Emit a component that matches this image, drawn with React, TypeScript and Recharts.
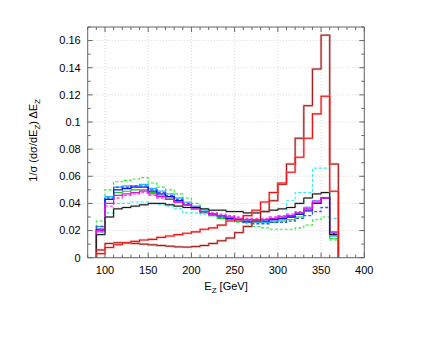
import React from 'react';
import { LineChart, Line, XAxis, YAxis, CartesianGrid, ReferenceLine } from 'recharts';

// Bin lower edges (GeV); last bin ends at 370
const binStart = [90, 100, 110, 120, 130, 140, 150, 160, 170, 180, 190, 200, 210, 220, 230, 240, 250, 260, 270, 280, 290, 300, 310, 320, 330, 340, 350, 360];
const binEnd = 370;

const darkRed = [0.0057, 0.0105, 0.011, 0.0108, 0.0105, 0.010, 0.0095, 0.009, 0.0085, 0.008, 0.0078, 0.0082, 0.009, 0.0105, 0.0125, 0.0145, 0.0185, 0.023, 0.027, 0.034, 0.042, 0.054, 0.069, 0.088, 0.112, 0.139, 0.164, 0.069];
const red = [0.003, 0.0075, 0.0095, 0.011, 0.012, 0.013, 0.0135, 0.015, 0.016, 0.017, 0.018, 0.019, 0.021, 0.022, 0.024, 0.027, 0.028, 0.031, 0.035, 0.041, 0.048, 0.055, 0.063, 0.074, 0.088, 0.106, 0.119, 0.049];
const black = [0.017, 0.030, 0.036, 0.037, 0.038, 0.039, 0.040, 0.040, 0.039, 0.038, 0.037, 0.037, 0.036, 0.035, 0.035, 0.034, 0.034, 0.033, 0.033, 0.034, 0.035, 0.036, 0.037, 0.040, 0.044, 0.047, 0.048, 0.017];
const cyanDash = [0.019, 0.033, 0.040, 0.040, 0.041, 0.041, 0.040, 0.039, 0.038, 0.036, 0.033, 0.033, 0.032, 0.031, 0.030, 0.029, 0.028, 0.027, 0.027, 0.027, 0.028, 0.030, 0.042, 0.048, 0.048, 0.066, 0.066, 0.029];
const greenDash = [0.027, 0.050, 0.056, 0.057, 0.058, 0.059, 0.055, 0.052, 0.050, 0.047, 0.044, 0.040, 0.036, 0.033, 0.030, 0.028, 0.026, 0.025, 0.023, 0.022, 0.021, 0.021, 0.021, 0.022, 0.024, 0.028, 0.030, 0.013];
const cyan = [0.019, 0.045, 0.052, 0.053, 0.053, 0.054, 0.051, 0.049, 0.047, 0.044, 0.041, 0.038, 0.035, 0.032, 0.030, 0.028, 0.027, 0.026, 0.026, 0.026, 0.027, 0.028, 0.030, 0.033, 0.037, 0.042, 0.044, 0.016];
const blueDash = [0.023, 0.044, 0.052, 0.052, 0.053, 0.053, 0.050, 0.048, 0.046, 0.043, 0.040, 0.037, 0.034, 0.032, 0.030, 0.028, 0.027, 0.026, 0.025, 0.025, 0.026, 0.026, 0.027, 0.029, 0.031, 0.034, 0.037, 0.017];
const blue = [0.021, 0.043, 0.050, 0.051, 0.052, 0.052, 0.049, 0.047, 0.045, 0.042, 0.039, 0.037, 0.034, 0.032, 0.031, 0.029, 0.028, 0.027, 0.027, 0.027, 0.028, 0.029, 0.030, 0.032, 0.035, 0.040, 0.044, 0.018];
const green = [0.023, 0.043, 0.048, 0.049, 0.050, 0.050, 0.048, 0.046, 0.044, 0.041, 0.039, 0.036, 0.033, 0.031, 0.029, 0.028, 0.027, 0.026, 0.026, 0.026, 0.026, 0.027, 0.028, 0.030, 0.034, 0.040, 0.044, 0.014];
const magenta = [0.020, 0.040, 0.046, 0.047, 0.048, 0.049, 0.047, 0.045, 0.043, 0.041, 0.039, 0.036, 0.034, 0.032, 0.031, 0.030, 0.029, 0.028, 0.028, 0.028, 0.029, 0.030, 0.031, 0.033, 0.036, 0.041, 0.044, 0.019];
const magentaDash = [0.019, 0.038, 0.044, 0.046, 0.047, 0.048, 0.046, 0.044, 0.043, 0.041, 0.039, 0.037, 0.034, 0.033, 0.032, 0.031, 0.030, 0.029, 0.029, 0.029, 0.030, 0.031, 0.032, 0.034, 0.037, 0.042, 0.044, 0.018];

const xMajor = [100, 150, 200, 250, 300, 350, 400];
const xAllTicks = [80, 90, 100, 110, 120, 130, 140, 150, 160, 170, 180, 190, 200, 210, 220, 230, 240, 250, 260, 270, 280, 290, 300, 310, 320, 330, 340, 350, 360, 370, 380, 390, 400];
const yMajor = [0, 0.02, 0.04, 0.06, 0.08, 0.1, 0.12, 0.14, 0.16];
const yLabels = ['0', '0.02', '0.04', '0.06', '0.08', '0.1', '0.12', '0.14', '0.16'];
const yAllTicks = [0, 0.01, 0.02, 0.03, 0.04, 0.05, 0.06, 0.07, 0.08, 0.09, 0.1, 0.11, 0.12, 0.13, 0.14, 0.15, 0.16, 0.17];

const seriesValues: Record<string, number[]> = {
  greenDash, cyanDash, green, cyan, blueDash, blue, magentaDash, magenta, black, darkRed, red,
};

type Def = { key: string; color: string; dash?: string; width: number; opacity?: number };
const styles: Def[] = [
  { key: 'greenDash', color: '#33ee33', dash: '3 2', width: 1.1 },
  { key: 'cyanDash', color: '#33eeee', dash: '3 2', width: 1.1 },
  { key: 'green', color: '#11cc11', width: 1.1 },
  { key: 'cyan', color: '#22bbff', width: 1.3 },
  { key: 'blueDash', color: '#3355ff', dash: '3 2', width: 1.3 },
  { key: 'blue', color: '#1111ee', width: 1.3 },
  { key: 'magentaDash', color: '#ff44ff', dash: '3 2', width: 1.3 },
  { key: 'magenta', color: '#dd11dd', width: 1.3 },
  { key: 'black', color: '#999999', width: 2.2, opacity: 0.5 },
  { key: 'black', color: '#111111', width: 1 },
  { key: 'darkRed', color: '#c87878', width: 2.4, opacity: 0.55 },
  { key: 'darkRed', color: '#a01818', width: 1 },
  { key: 'red', color: '#ff8080', width: 2.4, opacity: 0.5 },
  { key: 'red', color: '#ee1111', width: 1.1 },
];

const seriesKeys = Object.keys(seriesValues);
const data: Record<string, number>[] = [];
{
  const first: Record<string, number> = { x: binStart[0] };
  seriesKeys.forEach((k) => (first[k] = 0));
  data.push(first);
  binStart.forEach((b, i) => {
    const row: Record<string, number> = { x: b };
    seriesKeys.forEach((k) => (row[k] = seriesValues[k][i]));
    data.push(row);
  });
  const last: Record<string, number> = { x: binEnd };
  seriesKeys.forEach((k) => (last[k] = 0));
  data.push(last);
}

const FONT = '"Liberation Sans", Arial, Helvetica, sans-serif';
const FRAME = '#666666';

// plot-area layout
const M_TOP = 27;
const M_LEFT = 27.7;
const Y_AXIS_W = 60;
const M_RIGHT = 71.7;
const M_BOTTOM = 49.3;
const X_AXIS_H = 30;
const W = 436;
const H = 337;
const PLOT_TOP = M_TOP;
const PLOT_BOTTOM = H - M_BOTTOM - X_AXIS_H;
const PLOT_LEFT = M_LEFT + Y_AXIS_W;
const PLOT_RIGHT = W - M_RIGHT;
const X_MARGIN = 8;
const Y_MARGIN = 7;

const XTick = (props: any) => {
  const { x, payload } = props;
  const v = payload.value;
  const major = xMajor.includes(v);
  const len = major ? 5 : 3;
  return (
    <g>
      <line x1={x} x2={x} y1={PLOT_BOTTOM} y2={PLOT_BOTTOM - len} stroke={FRAME} />
      <line x1={x} x2={x} y1={PLOT_TOP} y2={PLOT_TOP + len} stroke={FRAME} />
      {major && (
        <text x={x} y={PLOT_BOTTOM + X_MARGIN} dy="0.71em" textAnchor="middle" fontSize={11} fontFamily={FONT} fill="#000">
          {v}
        </text>
      )}
    </g>
  );
};

const YTick = (props: any) => {
  const { y, payload } = props;
  const v = payload.value;
  const idx = yMajor.findIndex((m) => Math.abs(m - v) < 1e-9);
  const major = idx >= 0;
  const len = major ? 5 : 3;
  return (
    <g>
      <line x1={PLOT_LEFT} x2={PLOT_LEFT + len} y1={y} y2={y} stroke={FRAME} />
      <line x1={PLOT_RIGHT} x2={PLOT_RIGHT - len} y1={y} y2={y} stroke={FRAME} />
      {major && (
        <text x={PLOT_LEFT - Y_MARGIN} y={y} dy="0.355em" textAnchor="end" fontSize={11} fontFamily={FONT} fill="#000">
          {yLabels[idx]}
        </text>
      )}
    </g>
  );
};

const XLabel = (props: any) => {
  const vb = props.viewBox || {};
  const cx = vb.x + vb.width / 2;
  const y = vb.y + 32;
  return (
    <text x={cx} y={y} textAnchor="middle" fontSize={11} fontFamily={FONT} fill="#000">
      E<tspan dy={3} fontSize={8}>Z</tspan>
      <tspan dy={-3}> [GeV]</tspan>
    </text>
  );
};

const YLabel = (props: any) => {
  const vb = props.viewBox || {};
  const cy = vb.y + vb.height / 2 - 2;
  const x = 37;
  return (
    <text x={x} y={cy} textAnchor="middle" fontSize={11} fontFamily={FONT} fill="#000" transform={`rotate(-90 ${x} ${cy})`}>
      1/σ (dσ/dE<tspan dy={3} fontSize={8}>Z</tspan>
      <tspan dy={-3}>) ΔE</tspan>
      <tspan dy={3} fontSize={8}>Z</tspan>
    </text>
  );
};

export default function App() {
  return (
    <div style={{ position: 'absolute', left: 0, top: 0, width: W, height: H, background: '#fff' }}>
      <LineChart
        width={W}
        height={H}
        data={data}
        margin={{ top: M_TOP, right: M_RIGHT, bottom: M_BOTTOM, left: M_LEFT }}
        style={{ fontFamily: FONT }}
      >
        <XAxis
          xAxisId="x"
          type="number"
          dataKey="x"
          domain={[80, 400]}
          ticks={xAllTicks}
          interval={0}
          allowDataOverflow
          height={X_AXIS_H}
          tickLine={false}
          tickSize={0}
          tickMargin={X_MARGIN}
          axisLine={{ stroke: FRAME }}
          tick={<XTick />}
          label={<XLabel />}
        />
        <YAxis
          yAxisId="y"
          type="number"
          domain={[0, 0.17]}
          ticks={yAllTicks}
          interval={0}
          allowDataOverflow
          width={Y_AXIS_W}
          tickLine={false}
          tickSize={0}
          tickMargin={Y_MARGIN}
          axisLine={{ stroke: FRAME }}
          tick={<YTick />}
          label={<YLabel />}
        />

        <CartesianGrid
          xAxisId="x"
          yAxisId="y"
          stroke="#d8d8d8"
          strokeDasharray="1 2"
          verticalValues={xMajor}
          horizontalValues={yMajor}
        />
        <ReferenceLine xAxisId="x" yAxisId="y" y={0.17} stroke={FRAME} />
        <ReferenceLine xAxisId="x" yAxisId="y" x={400} stroke={FRAME} />

        {styles.map((s, i) => (
          <Line
            key={s.key + i}
            xAxisId="x"
            yAxisId="y"
            dataKey={s.key}
            type="stepAfter"
            stroke={s.color}
            strokeWidth={s.width}
            strokeOpacity={s.opacity ?? 1}
            strokeDasharray={s.dash}
            dot={false}
            activeDot={false}
            isAnimationActive={false}
          />
        ))}
      </LineChart>
    </div>
  );
}
